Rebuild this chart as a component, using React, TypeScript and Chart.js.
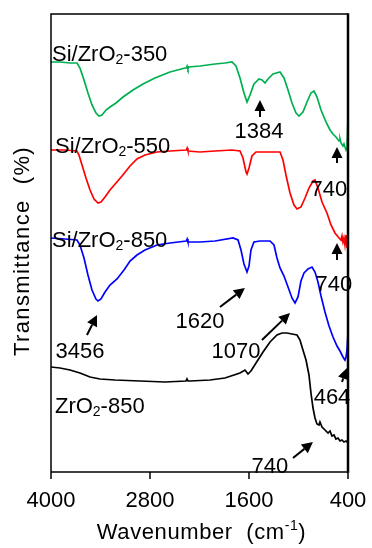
import React, { useEffect, useRef } from 'react';
import { Chart, registerables } from 'chart.js';

Chart.register(...registerables);

// Wavenumber (cm-1) vs. offset transmittance (arbitrary units)
const si350: [number, number][] = [
  [4000,410],[3891,410],[3770,409],[3685,409],[3649,404],[3600,392],[3552,379],[3503,367],[3455,359],[3418,356],
  [3382,357],[3333,362],[3285,365],[3212,369],[3127,375],[3006,382],[2885,388],[2740,394],[2558,400],[2376,404],
  [2360,404],[2350,406],[2340,403],[2330,405],[2194,406],[2012,408],[1891,409],[1806,410],[1758,406],[1709,394],
  [1661,379],[1624,370],[1588,377],[1540,388],[1479,393],[1442,392],[1406,389],[1370,393],[1309,398],[1224,400],
  [1176,394],[1127,382],[1079,369],[1030,359],[994,356],[946,360],[897,370],[849,379],[812,381],[776,375],
  [727,362],[667,350],[618,342],[582,338],[546,335],[509,331],[497,333],[485,329],[461,326],[449,328],
  [437,325],[424,322],[412,324],[400,357],
];
const si550: [number, number][] = [
  [4000,322],[3830,322],[3685,321],[3661,317],[3624,307],[3576,294],[3527,282],[3479,273],[3430,269],[3394,270],
  [3345,275],[3285,282],[3212,289],[3139,296],[3042,306],[2958,313],[2861,317],[2715,320],[2558,321],[2360,322],
  [2350,324],[2340,321],[2194,320],[2012,321],[1806,322],[1709,321],[1673,314],[1636,300],[1624,298],[1600,304],
  [1564,316],[1515,320],[1345,320],[1224,320],[1188,312],[1152,297],[1103,279],[1055,267],[1018,263],[970,265],
  [921,274],[873,284],[824,291],[800,292],[764,284],[715,270],[655,259],[606,247],[558,239],[509,234],
  [485,232],[473,236],[461,230],[449,234],[437,227],[424,237],[412,224],[400,240],
];
const si850: [number, number][] = [
  [4000,234],[3830,233],[3685,232],[3649,227],[3600,214],[3552,197],[3503,182],[3455,173],[3430,171],[3394,173],
  [3345,180],[3285,187],[3200,193],[3115,202],[3042,211],[2958,217],[2861,222],[2715,227],[2558,229],[2360,231],
  [2350,233],[2340,230],[2194,230],[2012,231],[1794,234],[1733,232],[1697,222],[1661,208],[1624,200],[1600,206],
  [1576,222],[1540,230],[1467,231],[1345,231],[1297,227],[1261,214],[1224,204],[1176,196],[1127,185],[1079,174],
  [1042,169],[1006,175],[970,191],[933,199],[885,203],[836,205],[800,200],[764,190],[727,176],[679,160],
  [630,146],[582,135],[533,126],[497,121],[461,115],[437,112],[424,115],[412,122],[400,139],
];
const zr850: [number, number][] = [
  [4000,105],[3891,104],[3770,102],[3649,99],[3527,95],[3406,93],[3224,92],[2921,91],[2618,90],[2364,91],
  [2352,93],[2340,91],[2315,91],[2073,92],[1891,94],[1709,99],[1649,102],[1612,98],[1576,101],[1515,109],
  [1430,120],[1345,130],[1261,137],[1200,139],[1139,139],[1079,138],[1018,137],[982,132],[946,122],[909,112],
  [873,97],[849,79],[824,64],[800,54],[776,48],[752,47],[740,50],[715,45],[679,42],[642,39],
  [618,41],[594,36],[570,37],[546,33],[521,34],[497,31],[473,32],[449,30],[424,31],[400,29],
];

const xTicks = [4000, 2800, 1600, 400];

// series name labels: base text, subscript, rest, anchored at (wavenumber, value), left aligned
const seriesLabels = [
  { base: 'Si/ZrO', sub: '2', rest: '-350', wn: 3988, t: 417 },
  { base: 'Si/ZrO', sub: '2', rest: '-550', wn: 3952, t: 325 },
  { base: 'Si/ZrO', sub: '2', rest: '-850', wn: 3988, t: 231 },
  { base: 'ZrO', sub: '2', rest: '-850', wn: 3952, t: 65 },
];

// peak labels centred at (wavenumber, value)
const peakLabels = [
  { text: '1384', wn: 1479, t: 340 },
  { text: '740', wn: 631, t: 282 },
  { text: '740', wn: 570, t: 187 },
  { text: '3456', wn: 3648, t: 120 },
  { text: '1620', wn: 2194, t: 150 },
  { text: '1070', wn: 1758, t: 120 },
  { text: '464', wn: 594, t: 74 },
  { text: '740', wn: 1346, t: 5 },
];

// arrows: tail (wn, t) -> tip (wn, t)
const arrows = [
  { from: [1467, 355], to: [1467, 372] },
  { from: [533, 309], to: [533, 325] },
  { from: [533, 212], to: [533, 229] },
  { from: [3564, 137], to: [3442, 157] },
  { from: [1952, 165], to: [1649, 184] },
  { from: [1443, 132], to: [1103, 159] },
  { from: [473, 90], to: [412, 104] },
  { from: [1067, 14], to: [825, 30] },
];

const FONT = 'Arial, "Liberation Sans", sans-serif';

const overlay = {
  id: 'overlay',
  afterDraw(chart: any) {
    const { ctx, chartArea: a, scales } = chart;
    const x = scales.x;
    const y = scales.y;
    ctx.save();
    ctx.strokeStyle = '#000';
    ctx.fillStyle = '#000';
    // frame
    ctx.lineWidth = 1.5;
    ctx.beginPath();
    ctx.moveTo(a.left, a.bottom);
    ctx.lineTo(a.left, a.top);
    ctx.lineTo(a.right, a.top);
    ctx.moveTo(a.left, a.bottom);
    ctx.lineTo(a.right, a.bottom);
    ctx.stroke();
    ctx.lineWidth = 2.5;
    ctx.beginPath();
    ctx.moveTo(a.right, a.top - 0.75);
    ctx.lineTo(a.right, a.bottom + 0.75);
    ctx.stroke();
    // tick marks
    ctx.lineWidth = 1.5;
    ctx.beginPath();
    for (const v of xTicks) {
      const px = x.getPixelForValue(v);
      ctx.moveTo(px, a.bottom);
      ctx.lineTo(px, a.bottom + 7);
    }
    ctx.stroke();

    // arrows
    for (const ar of arrows) {
      const x0 = x.getPixelForValue(ar.from[0]);
      const y0 = y.getPixelForValue(ar.from[1]);
      const x1 = x.getPixelForValue(ar.to[0]);
      const y1 = y.getPixelForValue(ar.to[1]);
      const ang = Math.atan2(y1 - y0, x1 - x0);
      const hl = 11;
      const hw = 5.5;
      const bx = x1 - hl * Math.cos(ang);
      const by = y1 - hl * Math.sin(ang);
      ctx.lineWidth = 2;
      ctx.beginPath();
      ctx.moveTo(x0, y0);
      ctx.lineTo(bx, by);
      ctx.stroke();
      ctx.beginPath();
      ctx.moveTo(x1, y1);
      ctx.lineTo(bx + hw * Math.sin(ang), by - hw * Math.cos(ang));
      ctx.lineTo(bx - hw * Math.sin(ang), by + hw * Math.cos(ang));
      ctx.closePath();
      ctx.fill();
    }

    // peak labels
    ctx.font = `22px ${FONT}`;
    ctx.textAlign = 'center';
    ctx.textBaseline = 'middle';
    for (const p of peakLabels) {
      ctx.fillText(p.text, x.getPixelForValue(p.wn), y.getPixelForValue(p.t));
    }

    // series labels
    ctx.textAlign = 'left';
    for (const s of seriesLabels) {
      let px = x.getPixelForValue(s.wn);
      const py = y.getPixelForValue(s.t);
      ctx.font = `22px ${FONT}`;
      ctx.fillText(s.base, px, py);
      px += ctx.measureText(s.base).width;
      ctx.font = `14px ${FONT}`;
      ctx.fillText(s.sub, px, py + 5);
      px += ctx.measureText(s.sub).width;
      ctx.font = `22px ${FONT}`;
      ctx.fillText(s.rest, px, py);
    }

    // x title
    const xt1 = 'Wavenumber  (cm';
    const xt2 = '-1';
    const xt3 = ')';
    ctx.font = `22px ${FONT}`;
    (ctx as any).letterSpacing = '0.6px';
    const w1 = ctx.measureText(xt1).width;
    const w3 = ctx.measureText(xt3).width;
    ctx.font = `14px ${FONT}`;
    const w2 = ctx.measureText(xt2).width;
    const total = w1 + w2 + w3;
    let tx = (a.left + a.right) / 2 + 2 - total / 2;
    const ty = 533;
    ctx.font = `22px ${FONT}`;
    ctx.fillText(xt1, tx, ty);
    tx += w1;
    ctx.font = `14px ${FONT}`;
    ctx.fillText(xt2, tx, ty - 7);
    tx += w2;
    ctx.font = `22px ${FONT}`;
    ctx.fillText(xt3, tx, ty);

    // y title
    ctx.save();
    ctx.translate(23, 251);
    ctx.rotate(-Math.PI / 2);
    ctx.textAlign = 'center';
    (ctx as any).letterSpacing = '1.4px';
    ctx.font = `22px ${FONT}`;
    ctx.fillText('Transmittance  (%)', 0, 0);
    ctx.restore();
    (ctx as any).letterSpacing = '0px';
    ctx.restore();
  },
};

const mk = (label: string, pts: [number, number][], color: string) => ({
  label,
  data: pts.map(([wn, t]) => ({ x: wn, y: t })),
  borderColor: color,
  backgroundColor: color,
  borderWidth: 1.7,
  pointRadius: 0,
  tension: 0,
  fill: false,
});

export default function App() {
  const ref = useRef<HTMLCanvasElement>(null);
  useEffect(() => {
    if (!ref.current) return;
    const chart = new Chart(ref.current, {
      type: 'line',
      data: {
        datasets: [
          mk('Si/ZrO2-350', si350, '#00B050'),
          mk('Si/ZrO2-550', si550, '#FF0000'),
          mk('Si/ZrO2-850', si850, '#0000FF'),
          mk('ZrO2-850', zr850, '#000000'),
        ],
      },
      options: {
        animation: false,
        responsive: false,
        maintainAspectRatio: false,
        layout: { padding: { left: 51, right: 24, top: 14, bottom: 17.6 } },
        plugins: { legend: { display: false }, tooltip: { enabled: false } },
        scales: {
          x: {
            type: 'linear',
            reverse: true,
            min: 400,
            max: 4000,
            afterBuildTicks: (s: any) => {
              s.ticks = xTicks.map((v) => ({ value: v }));
            },
            afterFit: (s: any) => {
              s.paddingLeft = 0;
              s.paddingRight = 0;
            },
            ticks: {
              autoSkip: false,
              maxRotation: 0,
              padding: 16,
              color: '#000',
              font: { family: FONT, size: 22 },
              callback: (v: any) => String(v),
            },
            grid: { display: false, drawTicks: false },
            border: { display: false },
          },
          y: { display: false, min: 0, max: 458 },
        },
      },
      plugins: [overlay],
    });
    return () => chart.destroy();
  }, []);
  return (
    <div style={{ position: 'fixed', left: 0, top: 0, width: 372, height: 548, background: '#fff' }}>
      <canvas ref={ref} width={372} height={548} style={{ display: 'block' }} />
    </div>
  );
}
